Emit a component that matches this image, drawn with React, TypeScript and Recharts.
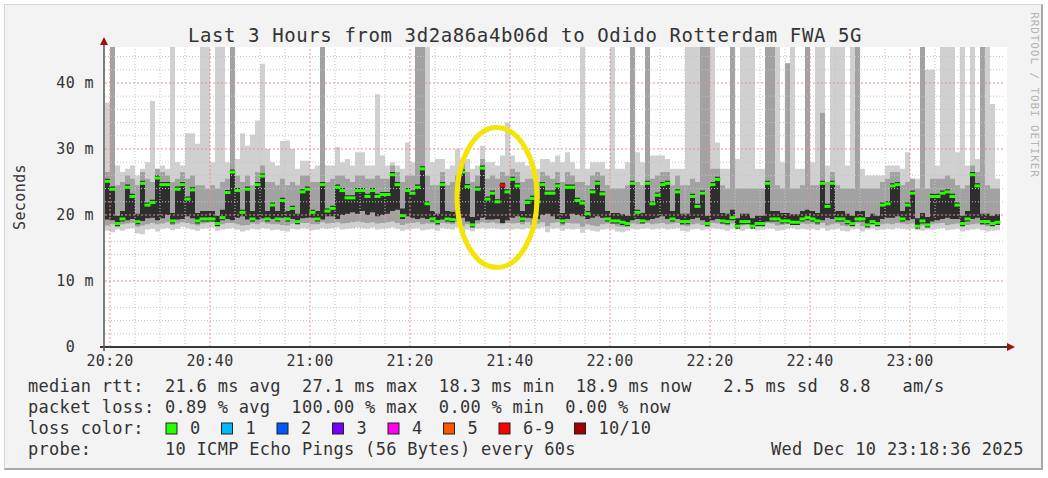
import { Area, ComposedChart, ReferenceLine, Scatter, XAxis, YAxis } from 'recharts';

const FONT = "'DejaVu Sans Mono', monospace";
const TEXT_COLOR = '#333333';
const LIGHT_SMOKE = '#d0d0d0';
const MID_SMOKE = '#a2a2a2';
const CORE_SMOKE = '#2e2e2e';
const MINOR_GRID = '#c4c4c4';
const MAJOR_GRID = '#ef8f8f';
const ARROW_COLOR = '#a01010';

// minutes since 20:19, one smokeping step per minute
const xTickMinutes = [1, 21, 41, 61, 81, 101, 121, 141, 161];
const xTickLabels = ['20:20', '20:40', '21:00', '21:20', '21:40', '22:00', '22:20', '22:40', '23:00'];
const yTicks = [0, 10, 20, 30, 40];
const yTickLabels = ['0  ', '10 m', '20 m', '30 m', '40 m'];

const medianRtt = [
	25.1, 23.9, 18.7, 19.4, 24.2, 22.8, 19.0, 24.8, 21.5, 21.9,
	25.6, 24.6, 24.6, 19.1, 23.9, 24.6, 22.4, 23.8, 19.1, 19.4,
	19.4, 19.4, 18.7, 19.6, 23.4, 26.5, 23.7, 20.4, 23.9, 19.4,
	24.6, 25.9, 19.4, 21.5, 19.4, 22.2, 19.4, 21.0, 19.0, 23.5,
	23.9, 20.4, 19.4, 24.6, 20.6, 21.0, 24.2, 23.7, 22.6, 22.6,
	23.7, 23.7, 22.8, 23.7, 22.8, 23.1, 23.1, 26.1, 24.6, 19.9,
	23.7, 23.3, 24.2, 27.0, 21.7, 19.4, 19.0, 24.6, 19.4, 19.3,
	23.8, 26.5, 24.3, 18.5, 23.9, 27.1, 22.4, 23.3, 22.0, 24.5,
	23.5, 25.4, 24.4, 19.4, 21.9, 22.5, 22.0, 24.6, 23.3, 23.3,
	24.4, 19.1, 24.2, 24.2, 22.2, 21.8, 20.2, 23.5, 24.8, 23.2,
	19.4, 19.1, 19.1, 18.9, 18.7, 24.8, 20.4, 19.1, 24.8, 21.7,
	23.0, 24.6, 24.8, 19.4, 23.5, 19.0, 19.0, 22.8, 21.3, 23.3,
	18.7, 24.6, 25.4, 19.1, 19.0, 19.6, 18.3, 19.0, 19.0, 18.3,
	18.7, 18.7, 24.8, 19.4, 19.4, 19.1, 19.1, 18.9, 18.9, 19.4,
	19.6, 19.4, 19.1, 24.8, 21.3, 24.8, 19.4, 19.4, 19.0, 18.7,
	19.4, 19.4, 18.5, 19.0, 18.7, 21.5, 21.7, 24.4, 24.6, 19.4,
	21.5, 23.3, 18.3, 19.1, 18.5, 22.8, 22.8, 23.3, 23.5, 22.8,
	21.5, 18.7, 19.4, 26.1, 24.4, 19.0, 19.0, 18.7, 18.9,
];

const pingMin = [
	17.6, 17.4, 17.8, 17.6, 17.9, 18.0, 17.2, 17.1, 17.8, 17.9,
	17.5, 17.9, 18.0, 17.7, 17.9, 18.2, 18.0, 17.8, 17.6, 17.9,
	18.0, 18.1, 17.6, 17.8, 17.9, 18.0, 17.8, 17.5, 17.7, 17.9,
	17.8, 18.0, 17.9, 17.7, 17.8, 17.6, 17.5, 17.9, 17.8, 18.0,
	17.9, 17.7, 17.8, 18.0, 17.9, 18.0, 18.1, 17.8, 17.9, 18.0,
	18.1, 18.0, 17.9, 18.1, 17.8, 17.9, 18.0, 18.1, 17.9, 17.6,
	17.8, 17.9, 18.0, 17.7, 17.8, 17.9, 17.6, 18.0, 17.9, 17.8,
	18.1, 17.2, 17.8, 17.5, 17.9, 18.0, 17.9, 18.0, 17.9, 17.8,
	17.9, 17.8, 17.9, 17.8, 18.0, 17.7, 17.9, 18.1, 17.4, 17.9,
	18.0, 17.6, 17.9, 17.8, 17.9, 17.3, 17.8, 17.6, 17.5, 17.8,
	17.9, 17.8, 17.5, 17.4, 17.6, 17.9, 17.8, 17.9, 18.0, 17.8,
	17.9, 18.0, 17.8, 17.9, 18.0, 17.6, 17.5, 17.8, 17.9, 17.7,
	17.9, 18.0, 17.9, 17.8, 17.6, 17.9, 17.8, 17.6, 17.9, 18.0,
	17.7, 17.8, 18.0, 17.9, 17.6, 17.7, 17.9, 18.0, 17.8, 17.9,
	17.8, 17.9, 17.7, 18.0, 17.6, 17.8, 17.9, 17.6, 17.5, 17.8,
	17.9, 17.5, 17.8, 17.9, 17.7, 17.8, 17.9, 17.8, 18.0, 17.9,
	17.8, 17.9, 17.7, 17.6, 17.8, 17.8, 17.9, 18.0, 17.7, 17.8,
	17.9, 17.5, 17.7, 17.8, 17.9, 17.7, 17.5, 17.6, 17.7,
];

// 46 = off the top of the graph
const pingMax = [
	37, 46, 27.5, 26.5, 27, 27.5, 26, 27, 28, 37.3,
	27, 27.5, 27, 46, 28, 27.5, 32.4, 32.4, 30.8, 46,
	46, 28, 46, 46, 28, 46, 28.5, 32.4, 30.5, 32.2,
	34.3, 42.9, 30, 28, 27.5, 31.2, 31.3, 30, 27, 28.2,
	28.2, 27, 27.5, 46, 27.5, 27.5, 30.3, 28, 28.5, 27.5,
	29.5, 29.5, 27.5, 27.5, 38.3, 29, 27.5, 28, 27.5, 27,
	31, 28, 46, 46, 46, 28, 28.5, 28.5, 27, 27.5,
	30, 28.5, 28.5, 27, 27.5, 30.5, 28, 28, 27.5, 29,
	34, 29, 28, 28, 27.5, 27, 27, 28.5, 28.5, 28,
	29, 28, 29.5, 28, 27, 46, 27, 28, 28, 28,
	27, 46, 27, 27, 28, 46, 29.5, 28, 46, 29,
	29, 29, 28.5, 27, 27, 27, 46, 46, 46, 46,
	46, 46, 31, 27, 27, 46, 28.5, 46, 46, 46,
	27, 27, 46, 46, 46, 28, 43, 46, 27, 27,
	46, 28, 46, 46, 27.5, 46, 46, 46, 27.5, 46,
	46, 27, 26, 26, 26, 26, 27.5, 27.5, 27.5, 27,
	29.5, 25.5, 25.5, 46, 42, 42, 27.5, 46, 46, 46,
	29.5, 46, 27.5, 46, 28.5, 46, 46, 36.8, 25.5,
];

const midLow = [
	18.4, 18.6, 18.3, 18.6, 18.7, 18.8, 18.2, 18.4, 18.6, 18.8,
	18.6, 18.7, 18.9, 18.5, 18.7, 18.9, 18.8, 18.6, 18.4, 18.7,
	18.8, 18.9, 18.4, 18.6, 18.8, 18.8, 18.6, 18.4, 18.5, 18.7,
	18.6, 18.9, 18.7, 18.6, 18.6, 18.5, 18.4, 18.7, 18.6, 18.8,
	18.8, 18.6, 18.6, 18.9, 18.7, 18.8, 18.9, 18.7, 18.8, 18.9,
	19.0, 18.9, 18.8, 18.9, 18.7, 18.8, 18.9, 19.0, 18.8, 18.5,
	18.7, 18.8, 18.9, 18.6, 18.7, 18.7, 18.4, 18.8, 18.7, 18.6,
	18.9, 18.3, 18.6, 18.3, 18.7, 18.9, 18.8, 18.9, 18.7, 18.6,
	18.8, 18.7, 18.8, 18.6, 18.9, 18.5, 18.7, 18.9, 18.3, 18.8,
	18.9, 18.4, 18.8, 18.7, 18.7, 18.2, 18.6, 18.4, 18.3, 18.6,
	18.7, 18.6, 18.3, 18.2, 18.4, 18.7, 18.6, 18.7, 18.8, 18.6,
	18.7, 18.8, 18.6, 18.7, 18.8, 18.4, 18.3, 18.6, 18.7, 18.5,
	18.6, 18.8, 18.7, 18.6, 18.4, 18.7, 18.5, 18.4, 18.6, 18.6,
	18.5, 18.6, 18.8, 18.7, 18.4, 18.5, 18.7, 18.7, 18.6, 18.7,
	18.6, 18.7, 18.5, 18.8, 18.4, 18.6, 18.7, 18.4, 18.3, 18.5,
	18.7, 18.3, 18.6, 18.7, 18.5, 18.6, 18.7, 18.6, 18.8, 18.7,
	18.6, 18.7, 18.4, 18.4, 18.5, 18.6, 18.7, 18.8, 18.5, 18.6,
	18.7, 18.3, 18.5, 18.6, 18.7, 18.5, 18.3, 18.4, 18.5,
];

const midHigh = [
	26.5, 46, 24.5, 25, 26, 25.5, 24.5, 26.5, 25.5, 25,
	27, 26.5, 26, 25, 25.5, 26.5, 25.5, 26, 24.5, 24.5,
	24, 24.5, 24, 25, 25.5, 46, 26, 25, 26, 24.5,
	26.5, 27.5, 25, 25, 24.5, 25.5, 24.5, 25, 24.5, 26,
	26, 25, 25, 46, 25, 25.5, 26, 26, 25.5, 25,
	26, 26, 25.5, 25.5, 26, 25.5, 25.5, 27.5, 26.5, 25,
	26, 26, 46, 46, 26, 24.5, 24.5, 26.5, 24.5, 25,
	26, 28, 26.5, 25, 26, 28.5, 25.5, 26, 25.5, 26.5,
	26, 27, 26.5, 25, 25.5, 25.5, 25, 26.5, 26, 25.5,
	26.5, 25, 26.5, 26, 25, 25, 24.5, 26, 26.5, 26,
	24.5, 24, 24, 24, 24.5, 46, 25, 24.5, 46, 25.5,
	26, 26.5, 26.5, 24.5, 26, 24.5, 24.5, 25.5, 25, 46,
	46, 27, 27, 24.5, 24, 46, 24, 24, 24, 24,
	24, 24, 46, 46, 24.5, 24, 43, 24, 24, 24.5,
	46, 24.5, 24.5, 35.5, 25, 26.5, 24.5, 24, 24, 24,
	46, 24, 24, 24, 24, 25, 25.5, 26.5, 26.5, 24.5,
	25, 25.5, 24, 46, 24, 25.5, 25.5, 25.5, 26, 25.5,
	24.5, 24, 24.5, 27.5, 26.5, 46, 24.5, 24, 24,
];

const coreLow = [
	19.3, 19.2, 18.3, 19.0, 19.2, 19.4, 18.6, 19.1, 19.5, 19.6,
	19.2, 19.5, 20.0, 18.7, 19.3, 19.4, 19.8, 19.5, 18.7, 19.0,
	19.0, 19.0, 18.3, 19.2, 19.4, 19.2, 19.6, 19.8, 19.3, 19.0,
	19.3, 19.5, 19.0, 19.4, 19.0, 19.6, 19.0, 19.4, 18.6, 19.5,
	19.6, 19.6, 19.0, 19.3, 19.8, 19.8, 19.4, 20.0, 20.2, 20.4,
	20.2, 20.6, 20.0, 20.4, 19.8, 20.0, 20.2, 20.6, 20.8, 19.4,
	19.8, 19.6, 19.4, 19.6, 19.4, 19.0, 18.6, 19.3, 19.0, 18.9,
	19.4, 19.6, 19.0, 18.1, 19.2, 19.6, 19.3, 19.3, 19.4, 18.8,
	19.2, 19.6, 19.8, 19.0, 19.6, 19.5, 19.4, 20.0, 20.2, 19.8,
	19.4, 18.7, 19.4, 20.2, 20.0, 19.8, 19.4, 19.6, 19.8, 19.6,
	19.0, 18.7, 18.7, 18.5, 18.3, 19.2, 19.4, 18.7, 19.2, 19.4,
	19.6, 19.8, 19.4, 19.0, 19.4, 18.6, 18.6, 19.4, 19.6, 19.2,
	18.3, 19.2, 19.4, 18.7, 18.6, 19.2, 17.9, 18.6, 18.6, 17.9,
	18.3, 18.3, 19.0, 19.0, 19.0, 18.7, 18.7, 18.5, 18.5, 19.0,
	19.2, 19.0, 18.7, 19.2, 19.6, 19.4, 19.0, 19.0, 18.6, 18.3,
	19.0, 19.0, 18.1, 18.6, 18.3, 19.4, 19.6, 19.6, 19.8, 19.0,
	19.2, 19.4, 17.9, 18.7, 18.1, 19.0, 19.2, 19.4, 19.6, 19.4,
	19.4, 18.3, 19.0, 19.4, 19.6, 18.6, 18.6, 18.3, 18.5,
];

const coreHigh = [
	25.5, 24.3, 19.9, 20.6, 24.6, 23.2, 20.2, 25.2, 21.9, 22.3,
	26.0, 25.0, 25.0, 20.3, 24.3, 25.0, 22.8, 24.2, 20.3, 20.6,
	20.6, 20.6, 19.9, 20.8, 23.8, 26.9, 24.1, 20.8, 24.3, 20.6,
	25.0, 26.3, 20.6, 21.9, 20.6, 22.6, 20.6, 21.4, 20.2, 23.9,
	24.3, 20.8, 20.6, 25.0, 21.0, 21.4, 24.6, 24.1, 23.0, 23.0,
	24.1, 24.1, 23.2, 24.1, 23.2, 23.5, 23.5, 26.5, 25.0, 21.0,
	24.1, 23.7, 24.6, 27.4, 22.1, 20.6, 20.2, 25.0, 20.6, 20.5,
	24.2, 26.9, 24.7, 19.7, 24.3, 27.5, 22.8, 23.7, 22.4, 24.9,
	23.9, 25.8, 24.8, 20.6, 22.3, 22.9, 22.4, 25.0, 23.7, 23.7,
	24.8, 20.3, 24.6, 24.6, 22.6, 22.2, 20.6, 23.9, 25.2, 23.6,
	20.6, 20.3, 20.3, 20.1, 19.9, 25.2, 20.8, 20.3, 25.2, 22.1,
	23.4, 25.0, 25.2, 20.6, 23.9, 20.2, 20.2, 23.2, 21.7, 23.7,
	19.9, 25.0, 25.8, 20.3, 20.2, 20.8, 19.5, 20.2, 20.2, 19.5,
	19.9, 19.9, 25.2, 20.6, 20.6, 20.3, 20.3, 20.1, 20.1, 20.6,
	20.8, 20.6, 20.3, 25.2, 21.7, 25.2, 20.6, 20.6, 20.2, 19.9,
	20.6, 20.6, 19.7, 20.2, 19.9, 21.9, 22.1, 24.8, 25.0, 20.6,
	21.9, 23.7, 19.5, 20.3, 19.7, 23.2, 23.2, 23.7, 23.9, 23.2,
	21.9, 19.9, 20.6, 26.5, 24.8, 20.2, 20.2, 19.9, 20.1,
];

const lossMinutes = [79];
const lossBuckets = ['6-9'];

const lossLegend = ['0', '1', '2', '3', '4', '5', '6-9', '10/10'];
const lossColors = ['#26ff00', '#00b8ff', '#0059ff', '#7400ff', '#ff00f0', '#ff5500', '#ff0000', '#a10000'];

const statsLines = [
	'median rtt:  21.6 ms avg  27.1 ms max  18.3 ms min  18.9 ms now   2.5 ms sd  8.8   am/s',
	'packet loss: 0.89 % avg  100.00 % max  0.00 % min  0.00 % now',
];
const probeLine = 'probe:       10 ICMP Echo Pings (56 Bytes) every 60s';
const stampLine = 'Wed Dec 10 23:18:36 2025';
const title = 'Last 3 Hours from 3d2a86a4b06d to Odido Rotterdam FWA 5G';

const smoke = medianRtt.map((_, i) => ({
	t: i,
	light: [pingMin[i], pingMax[i]],
	mid: [midLow[i], midHigh[i]],
	core: [coreLow[i], coreHigh[i]],
}));
// close the last step
smoke.push({ ...smoke[smoke.length - 1], t: medianRtt.length });

const medians = medianRtt.map((v, i) => {
	const k = lossMinutes.indexOf(i);
	const bucket = k >= 0 ? lossBuckets[k] : '0';
	return { t: i, med: v, color: lossColors[lossLegend.indexOf(bucket)] };
});

const minorY = Array.from({ length: 22 }, (_, i) => (i + 1) * 2).filter((v) => v % 10 !== 0);
const majorY = [10, 20, 30, 40];
const minorX = Array.from({ length: 36 }, (_, i) => 1 + i * 5).filter((m) => !xTickMinutes.includes(m));

function XTick({ x, y, payload }: any) {
	const label = xTickLabels[xTickMinutes.indexOf(payload.value)];
	return (
		<text x={x} y={y + 19} textAnchor="middle" fontFamily={FONT} fontSize={15} fill={TEXT_COLOR} style={{ letterSpacing: 0.4 }}>
			{label}
		</text>
	);
}

function YTick({ x, y, payload }: any) {
	const label = yTickLabels[yTicks.indexOf(payload.value)];
	return (
		<text x={x - 11} y={y + 5} textAnchor="end" fontFamily={FONT} fontSize={15} fill={TEXT_COLOR} style={{ letterSpacing: 0.4, whiteSpace: 'pre' }}>
			{label}
		</text>
	);
}

function MedianMark({ cx, cy, payload }: any) {
	if (cx == null || cy == null) return null;
	return <rect x={cx - 0.5} y={cy - 1.5} width={6} height={3} fill={payload.color} />;
}

export default function App() {
	return (
		<div style={{ position: 'absolute', left: 0, top: 0, width: 1048, height: 478, background: '#ffffff' }}>
			<div
				style={{
					position: 'absolute',
					left: 4,
					top: 4,
					width: 1036,
					height: 463,
					background: '#f3f3f3',
					borderTop: '1px solid #d6d6d6',
					borderLeft: '1px solid #d6d6d6',
					borderRight: '2px solid #a8a8a8',
					borderBottom: '2px solid #a8a8a8',
				}}
			/>
			<div style={{ position: 'absolute', left: 104, top: 47, width: 903, height: 300, background: '#ffffff' }} />
			<div style={{ position: 'absolute', left: 0, top: 0 }}>
				<ComposedChart width={1048} height={478} data={smoke} margin={{ top: 47, left: 45, right: 43, bottom: 101 }}>
					<XAxis
						type="number"
						dataKey="t"
						domain={[0, 180]}
						ticks={xTickMinutes}
						allowDataOverflow
						height={30}
						axisLine={false}
						tickLine={false}
						tickSize={0}
						tickMargin={0}
						tick={XTick}
						interval={0}
					/>
					<YAxis
						type="number"
						domain={[0, 45.45]}
						ticks={yTicks}
						allowDataOverflow
						width={60}
						axisLine={false}
						tickLine={false}
						tickSize={0}
						tickMargin={0}
						tick={YTick}
						interval={0}
					/>
					<Area type="stepAfter" dataKey="light" stroke="none" fill={LIGHT_SMOKE} fillOpacity={1} isAnimationActive={false} activeDot={false} />
					<Area type="stepAfter" dataKey="mid" stroke="none" fill={MID_SMOKE} fillOpacity={1} isAnimationActive={false} activeDot={false} />
					<Area type="stepAfter" dataKey="core" stroke="none" fill={CORE_SMOKE} fillOpacity={1} isAnimationActive={false} activeDot={false} />
					{minorY.map((v) => (
						<ReferenceLine key={`my${v}`} y={v} stroke={MINOR_GRID} strokeDasharray="1 2" />
					))}
					{minorX.map((m) => (
						<ReferenceLine key={`mx${m}`} x={m} stroke={MINOR_GRID} strokeDasharray="1 2" />
					))}
					{majorY.map((v) => (
						<ReferenceLine key={`My${v}`} y={v} stroke={MAJOR_GRID} strokeDasharray="2 2" />
					))}
					{xTickMinutes.map((m) => (
						<ReferenceLine key={`Mx${m}`} x={m} stroke={MAJOR_GRID} strokeDasharray="2 2" />
					))}
					<Scatter data={medians} dataKey="med" shape={MedianMark} isAnimationActive={false} />
				</ComposedChart>
			</div>
			<svg width={1048} height={478} style={{ position: 'absolute', left: 0, top: 0, pointerEvents: 'none' }}>
				<line x1={100} y1={347} x2={1008} y2={347} stroke="#3a3a3a" strokeWidth={2} />
				<polygon points="1015,347 1007,343 1007,351" fill={ARROW_COLOR} />
				<line x1={104} y1={351} x2={104} y2={44} stroke="#555555" strokeWidth={1.5} />
				<polygon points="104,37 100,45 108,45" fill={ARROW_COLOR} />
				<ellipse cx={497} cy={197.5} rx={40} ry={70} fill="none" stroke="#f4e40a" strokeWidth={5} />
				<text x={525} y={42} textAnchor="middle" fontFamily={FONT} fontSize={19} fill={TEXT_COLOR} style={{ letterSpacing: 0.6 }}>
					{title}
				</text>
				<text x={25} y={197} textAnchor="middle" transform="rotate(-90 25 197)" fontFamily={FONT} fontSize={15} fill={TEXT_COLOR} style={{ letterSpacing: 0.4 }}>
					Seconds
				</text>
				<text x={1031} y={95} textAnchor="middle" transform="rotate(90 1031 95)" fontFamily={FONT} fontSize={11} fill="#b4b4b4" style={{ letterSpacing: 0.9 }}>
					RRDTOOL / TOBI OETIKER
				</text>
				{statsLines.map((line, i) => (
					<text key={line} x={28} y={392 + i * 21} fontFamily={FONT} fontSize={17} fill={TEXT_COLOR} style={{ letterSpacing: 0.3, whiteSpace: 'pre' }}>
						{line}
					</text>
				))}
				<text x={28} y={434} fontFamily={FONT} fontSize={17} fill={TEXT_COLOR} style={{ letterSpacing: 0.3 }}>
					loss color:
				</text>
				{lossLegend.map((label, i) => {
					const sx = 166 + i * 55.5 + (i === 7 ? 20 : 0);
					return (
						<g key={label}>
							<rect x={sx} y={423} width={11} height={11} fill={lossColors[i]} stroke="#222222" strokeWidth={1} />
							<text x={sx + 24} y={434} fontFamily={FONT} fontSize={17} fill={TEXT_COLOR} style={{ letterSpacing: 0.3 }}>
								{label}
							</text>
						</g>
					);
				})}
				<text x={28} y={455} fontFamily={FONT} fontSize={17} fill={TEXT_COLOR} style={{ letterSpacing: 0.3, whiteSpace: 'pre' }}>
					{probeLine}
				</text>
				<text x={771} y={455} fontFamily={FONT} fontSize={17} fill={TEXT_COLOR} style={{ letterSpacing: 0.3 }}>
					{stampLine}
				</text>
			</svg>
		</div>
	);
}
